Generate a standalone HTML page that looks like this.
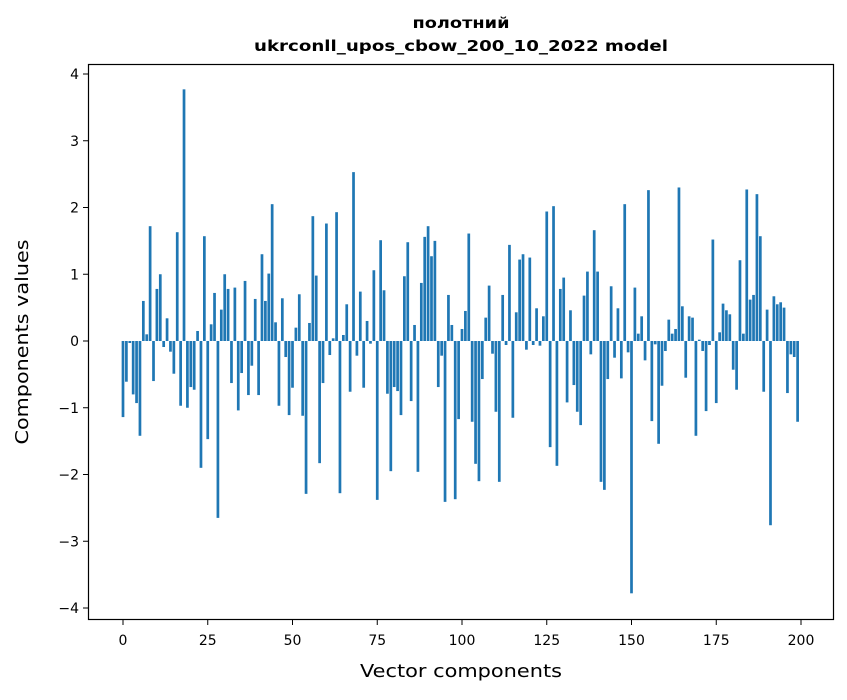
<!DOCTYPE html>
<html><head><meta charset="utf-8"><style>
body{margin:0;background:#fff;font-family:"DejaVu Sans","Liberation Sans",sans-serif;}
</style></head><body>
<svg id="chart" width="847" height="696" xmlns="http://www.w3.org/2000/svg" font-family="DejaVu Sans, Liberation Sans, sans-serif">
<rect width="847" height="696" fill="#fff"/>
<text x="461" y="28" text-anchor="middle" font-size="15" font-weight="bold" textLength="97" lengthAdjust="spacingAndGlyphs">полотний</text>
<text x="461" y="51" text-anchor="middle" font-size="15" font-weight="bold" textLength="414" lengthAdjust="spacingAndGlyphs">ukrconll_upos_cbow_200_10_2022 model</text>
<g id="bars"></g>
<rect x="88.5" y="64.5" width="745" height="555" fill="none" stroke="#000" stroke-width="1.2"/>
<g id="xticks"></g>
<g id="yticks"></g>
<text x="461" y="677" text-anchor="middle" font-size="18" textLength="202" lengthAdjust="spacingAndGlyphs">Vector components</text>
<text transform="translate(28,342) rotate(-90)" text-anchor="middle" font-size="18" textLength="205" lengthAdjust="spacingAndGlyphs">Components values</text>
</svg>
<script>
const values = [-1.14,-0.61,-0.03,-0.8,-0.93,-1.42,0.6,0.1,1.72,-0.6,0.78,1.0,-0.09,0.34,-0.16,-0.49,1.63,-0.97,3.77,-1.0,
-0.69,-0.73,0.15,-1.9,1.57,-1.47,0.25,0.72,-2.65,0.47,1.0,0.78,-0.63,0.8,-1.04,-0.48,0.9,-0.81,-0.37,0.63,
-0.81,1.3,0.6,1.01,2.05,0.28,-0.97,0.64,-0.24,-1.11,-0.7,0.2,0.7,-1.12,-2.29,0.27,1.87,0.98,-1.83,-0.63,
1.76,-0.21,0.04,1.93,-2.28,0.09,0.55,-0.76,2.53,-0.22,0.74,-0.7,0.3,-0.04,1.06,-2.38,1.51,0.76,-0.79,-1.95,
-0.69,-0.75,-1.11,0.97,1.48,-0.9,0.24,-1.96,0.87,1.56,1.72,1.27,1.5,-0.69,-0.22,-2.41,0.69,0.24,-2.37,-1.17,
0.18,0.45,1.61,-1.21,-1.84,-2.1,-0.57,0.35,0.83,-0.19,-1.06,-2.11,0.69,-0.06,1.44,-1.15,0.43,1.22,1.3,-0.13,
1.25,-0.06,0.49,-0.07,0.37,1.94,-1.59,2.02,-1.87,0.78,0.95,-0.92,0.46,-0.66,-1.06,-1.26,0.68,1.04,-0.2,1.66,
1.04,-2.11,-2.23,-0.57,0.82,-0.25,0.49,-0.56,2.05,-0.17,-3.78,0.8,0.11,0.37,-0.29,2.26,-1.2,-0.05,-1.54,-0.67,
-0.15,0.32,0.11,0.18,2.3,0.52,-0.55,0.37,0.35,-1.42,0.02,-0.15,-1.05,-0.06,1.52,-0.93,0.13,0.56,0.46,0.4,
-0.43,-0.73,1.21,0.11,2.27,0.62,0.69,2.2,1.57,-0.76,0.47,-2.76,0.67,0.55,0.58,0.5,-0.78,-0.2,-0.24,-1.21];
const xTicks = [0,25,50,75,100,125,150,175,200];
const yTicks = [-4,-3,-2,-1,0,1,2,3,4];
const NS="http://www.w3.org/2000/svg";
function xs(v){return 123+3.39*v;}
function ys(v){return 341-66.75*v;}
const bars=document.getElementById('bars');
values.forEach((v,i)=>{
  const r=document.createElementNS(NS,'rect');
  
  
  const y0=ys(0), y1=ys(v);
  r.setAttribute('x',xs(i-0.4));
  r.setAttribute('width',3.39*0.8);
  r.setAttribute('y',Math.min(y0,y1));
  r.setAttribute('height',Math.abs(y1-y0));
  r.setAttribute('fill','#1f77b4');
  bars.appendChild(r);
});
const xg=document.getElementById('xticks');
xTicks.forEach(t=>{
  const l=document.createElementNS(NS,'line');
  
  
  l.setAttribute('x1',xs(t));l.setAttribute('x2',xs(t));
  l.setAttribute('y1',620);l.setAttribute('y2',625);
  l.setAttribute('stroke','#000');
  xg.appendChild(l);
  const tx=document.createElementNS(NS,'text');
  
  
  tx.setAttribute('x',xs(t));tx.setAttribute('y',645);
  tx.setAttribute('text-anchor','middle');tx.setAttribute('font-size','14');
  tx.textContent=t;
  xg.appendChild(tx);
});
const yg=document.getElementById('yticks');
yTicks.forEach(t=>{
  const l=document.createElementNS(NS,'line');
  
  
  l.setAttribute('x1',83);l.setAttribute('x2',88);
  l.setAttribute('y1',ys(t));l.setAttribute('y2',ys(t));
  l.setAttribute('stroke','#000');
  yg.appendChild(l);
  const tx=document.createElementNS(NS,'text');
  
  
  tx.setAttribute('x',79);tx.setAttribute('y',ys(t)+5);
  tx.setAttribute('text-anchor','end');tx.setAttribute('font-size','14');
  tx.textContent=t<0?'\u2212'+Math.abs(t):String(t);
  yg.appendChild(tx);
});
</script>
</body></html>
